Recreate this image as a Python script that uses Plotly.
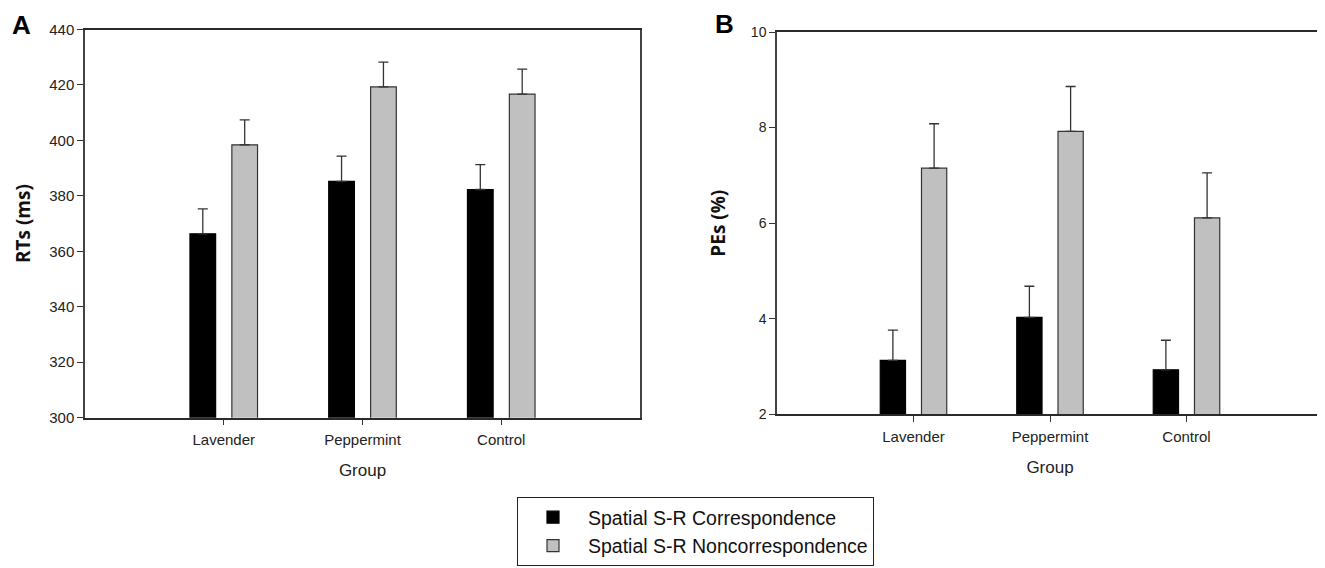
import plotly.graph_objects as go

groups = ["Lavender", "Peppermint", "Control"]
series_names = ["Spatial S-R Correspondence", "Spatial S-R Noncorrespondence"]

rt_corr = [366.3, 385.2, 382.3]
rt_corr_err = [9.0, 9.1, 9.0]
rt_noncorr = [398.4, 419.3, 416.7]
rt_noncorr_err = [9.0, 8.9, 9.0]

pe_corr = [3.13, 4.03, 2.93]
pe_corr_err = [0.63, 0.65, 0.62]
pe_noncorr = [7.15, 7.92, 6.11]
pe_noncorr_err = [0.93, 0.94, 0.94]

# page body has an 8px margin; lay out in screen pixels and shift
OFF = 8
W, H = 1325 - OFF, 568 - OFF


def px(x):
    return (x - OFF) / W


def py(y):
    return 1 - (y - OFF) / H


BLACK = "#000000"
GRAY = "#c0c0c0"
EDGE = "#333333"
TICKFONT = "Liberation Sans"
BOLDFONT = "Open Sans"

fig = go.Figure()


def add_bars(y, err, name, color, xa, ya, show):
    fig.add_trace(go.Bar(
        x=groups, y=y, name=name, legendgroup=name, showlegend=show,
        marker=dict(color=color, line=dict(color=BLACK if color == BLACK else EDGE, width=1.2)),
        error_y=dict(type="data", symmetric=False, array=err, arrayminus=[0] * len(err),
                     color=EDGE, thickness=1.3, width=5),
        xaxis=xa, yaxis=ya,
    ))


add_bars(rt_corr, rt_corr_err, series_names[0], BLACK, "x", "y", True)
add_bars(rt_noncorr, rt_noncorr_err, series_names[1], GRAY, "x", "y", True)
add_bars(pe_corr, pe_corr_err, series_names[0], BLACK, "x2", "y2", False)
add_bars(pe_noncorr, pe_noncorr_err, series_names[1], GRAY, "x2", "y2", False)

xcommon = dict(range=[-1, 3], showline=True, mirror=True, linecolor="#2a2a2a", linewidth=1.5,
               ticks="outside", ticklen=6, tickcolor=EDGE, tickwidth=1.2,
               tickfont=dict(family=TICKFONT, size=15, color="#222"),
               ticklabelstandoff=2, showgrid=False, zeroline=False)
ycommon = dict(showline=True, mirror=True, linecolor="#444444", linewidth=1.5,
               ticks="outside", ticklen=6, tickcolor=EDGE, tickwidth=1.2,
               showgrid=False, zeroline=False)

fig.update_layout(
    width=W, height=H,
    paper_bgcolor="white", plot_bgcolor="white",
    margin=dict(l=0, r=0, t=0, b=0, autoexpand=False),
    barmode="group", bargap=0.396, bargroupgap=0.387,
    xaxis=dict(domain=[px(85), px(640)], anchor="y",
               title=dict(text="Group", font=dict(family=TICKFONT, size=17, color="#222"), standoff=17),
               **xcommon),
    yaxis=dict(domain=[py(417.7), py(29.5)], anchor="x", range=[300, 440], dtick=20,
               tickfont=dict(family=TICKFONT, size=15, color="#222"),
               title=dict(text="<b>RTs (ms)</b>", font=dict(family=BOLDFONT, size=19, color="#111"), standoff=14),
               **ycommon),
    xaxis2=dict(domain=[px(777), px(1323)], anchor="y2",
                title=dict(text="Group", font=dict(family=TICKFONT, size=17, color="#222"), standoff=17),
                **xcommon),
    yaxis2=dict(domain=[py(414.3), py(32)], anchor="x2", range=[2, 10], dtick=2,
                tickfont=dict(family=TICKFONT, size=14, color="#222"),
                title=dict(text="<b>PEs (%)</b>", font=dict(family=BOLDFONT, size=19, color="#111"), standoff=20),
                **ycommon),
    legend=dict(x=px(517), y=py(497), xanchor="left", yanchor="top",
                bgcolor="white", bordercolor="#222", borderwidth=1,
                font=dict(family=TICKFONT, size=19.5, color="#111"),
                itemwidth=60, traceorder="normal"),
    annotations=[
        dict(text="<b>A</b>", x=px(21), y=py(25), xref="paper", yref="paper",
             xanchor="center", yanchor="middle",
             showarrow=False, font=dict(family=TICKFONT, size=26, color="#000")),
        dict(text="<b>B</b>", x=px(724), y=py(24), xref="paper", yref="paper",
             xanchor="center", yanchor="middle",
             showarrow=False, font=dict(family=TICKFONT, size=26, color="#000")),
    ],
)

fig.write_html("out.html")
